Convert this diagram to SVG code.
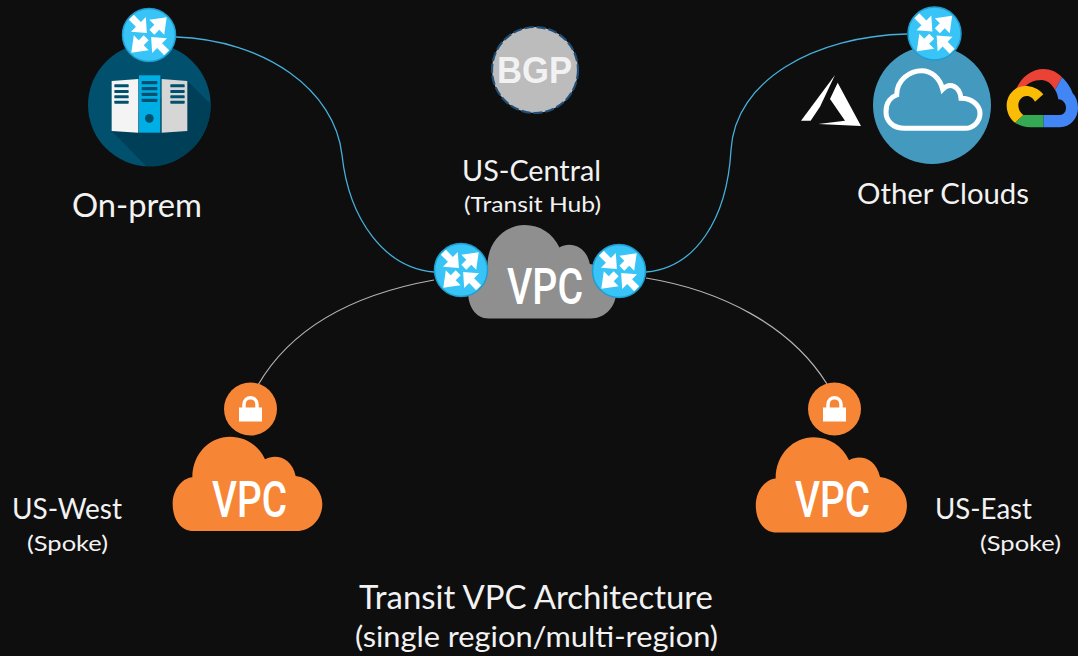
<svg xmlns="http://www.w3.org/2000/svg" width="1078" height="656" viewBox="0 0 1078 656">
<style>
text{font-family:"Lato","Carlito","Open Sans",sans-serif;fill:#f2f2f2;text-anchor:start}
.l{font-size:28px}.s{font-size:21px}
.vpc{font-family:"Roboto",sans-serif;font-weight:500;fill:#fff}
.blue{fill:none;stroke:#45b0dc;stroke-width:1.3}
.grey{fill:none;stroke:#b4b4b4;stroke-width:1.2}
.orange{fill:#f68536}
</style>
<defs>
<g id="router">
<circle r="26.5" fill="#38c4f6" stroke="#1f9dcf" stroke-width="1.5"/>
<g fill="#fff">
<polygon transform="rotate(-45)" points="4,-3.5 11,-3.5 11,-10.500 25,0 11,10.500 11,3.500 4,3.500"/>
<polygon transform="rotate(135)" points="4,-3.5 11,-3.5 11,-10.500 25,0 11,10.500 11,3.500 4,3.500"/>
<polygon transform="rotate(225)" points="3,0 15,-10.500 15,-3.500 25,-3.500 25,3.500 15,3.500 15,10.500"/>
<polygon transform="rotate(45)" points="3,0 15,-10.500 15,-3.500 25,-3.500 25,3.500 15,3.500 15,10.500"/>
</g>
</g>
<path id="cloud" d="M100,483C60,483 38,445 38,402C38,360 65,325 97,322C97,250 150,200 210,200C255,200 295,225 315,268C345,250 395,260 407,318C450,322 487,360 487,402C487,445 455,483 410,483Z"/>
<g id="lock">
<circle r="26.5" class="orange"/>
<rect x="-11.5" y="-1.5" width="23" height="14" fill="#fff"/>
<path d="M-6.5,-1V-4.500C-6.500,-13.500 6.500,-13.500 6.500,-4.500V-1" fill="none" stroke="#fff" stroke-width="3.500"/>
</g>
<clipPath id="srv"><circle cx="268" cy="315" r="184"/></clipPath>
<filter id="soft" x="-10%" y="-10%" width="120%" height="120%"><feGaussianBlur stdDeviation="2"/></filter>
</defs>
<rect width="1078" height="656" fill="#0e0e0e"/>
<g id="connectors">
<path class="blue" d="M176,37C265,40 335,90 342,155C349,220 385,268 434,272"/>
<path class="blue" d="M907,34C815,36 735,80 731,150C727,220 695,268 646,272"/>
<path class="grey" d="M434,280C350,295 290,330 258,385"/>
<path class="grey" d="M646,278C720,290 790,325 827,384"/>
</g>
<g id="on-prem">
<g transform="translate(60,0) scale(.33333)">
<circle cx="268" cy="315" r="184" fill="#00506e"/>
<polygon clip-path="url(#srv)" points="382,243 470,330 470,510 270,510 155,393" fill="#003f58"/>
<polygon points="155,243 235,237 235,398 155,393" fill="#f4f4f4"/>
<rect x="237" y="226" width="64" height="172" fill="#00aee6"/>
<polygon points="305,237 382,243 382,393 305,398" fill="#d6d6d6"/>
<g fill="#00506e">
<rect x="163" y="253" width="43" height="9" rx="2"/><rect x="163" y="270" width="43" height="9" rx="2"/><rect x="163" y="286" width="43" height="9" rx="2"/><rect x="163" y="302" width="43" height="9" rx="2"/>
<rect x="331" y="253" width="43" height="9" rx="2"/><rect x="331" y="270" width="43" height="9" rx="2"/><rect x="331" y="286" width="43" height="9" rx="2"/><rect x="331" y="302" width="43" height="9" rx="2"/>
<rect x="245" y="243" width="47" height="10" rx="2"/><rect x="245" y="261" width="47" height="10" rx="2"/><rect x="245" y="278" width="47" height="10" rx="2"/><rect x="245" y="296" width="47" height="10" rx="2"/>
<circle cx="268" cy="355" r="13"/>
</g>
</g>
<use href="#router" x="149" y="35"/>
<text x="72" y="217" font-size="33" textLength="130" lengthAdjust="spacingAndGlyphs">On-prem</text>
</g>
<g id="bgp">
<circle cx="535" cy="70" r="43" fill="#bcbcbc" stroke="#1f4e79" stroke-width="2.200" stroke-dasharray="9 3"/>
<text x="497" y="83" style="font-family:'Liberation Sans',sans-serif;font-weight:700;font-size:36px" textLength="75" lengthAdjust="spacingAndGlyphs">BGP</text>
</g>
<g id="other-clouds">
<g transform="translate(790,0) scale(.33333)">
<circle cx="426" cy="315" r="177" fill="#4499bf"/>
<path d="M345,385C305,385 288,360 288,335C288,305 305,290 320,285C320,240 360,212 395,212C425,212 450,235 458,268C480,245 510,260 513,295C545,295 570,315 570,340C570,365 550,385 525,385Z" fill="none" stroke="#fff" stroke-width="15"/>
<g filter="url(#soft)" fill="#fff">
<polygon points="135,225 33,362 62,362 90,320"/>
<polygon points="143,248 120,297 165,362 85,372 213,378"/>
</g>
<path fill="#ea4335" d="M678,268C695,228 728,207 760,207C782,207 800,215 816,232L795,270C785,250 770,240 755,240C730,240 712,250 705,262Z"/>
<path fill="#4285f4" d="M816,232C835,250 845,270 848,280C858,290 864,305 864,325C864,355 840,382 810,382H760V345H810C835,345 835,300 805,298C803,285 800,277 795,270Z"/>
<path fill="#34a853" d="M675,368C690,378 705,382 720,382H760V345H700Z"/>
<path fill="#fbbc05" d="M760,283C745,265 725,258 705,258C675,258 650,285 650,316C650,338 660,358 675,368L700,345C690,338 685,328 685,316C685,302 695,288 710,288C722,288 730,296 735,305Z"/>
</g>
<use href="#router" x="934.500" y="33.500"/>
<text x="857" y="204" class="l" textLength="172" lengthAdjust="spacingAndGlyphs">Other Clouds</text>
</g>
<g id="us-central">
<use href="#cloud" transform="translate(455.500,159) scale(.33)" fill="#8f8f8f"/>
<text x="507" y="304" class="vpc" font-size="50" textLength="76" lengthAdjust="spacingAndGlyphs">VPC</text>
<use href="#router" x="461" y="270"/>
<use href="#router" x="619" y="271"/>
<text x="462" y="181" class="l" textLength="139" lengthAdjust="spacingAndGlyphs">US-Central</text>
<text x="464" y="212" class="s" textLength="137" lengthAdjust="spacingAndGlyphs">(Transit Hub)</text>
</g>
<g id="us-west">
<use href="#lock" x="250.500" y="409"/>
<use href="#cloud" class="orange" transform="translate(160,370) scale(.33333)"/>
<text x="212" y="516.500" class="vpc" font-size="50" textLength="75" lengthAdjust="spacingAndGlyphs">VPC</text>
<text x="12" y="519" class="l" textLength="110" lengthAdjust="spacingAndGlyphs">US-West</text>
<text x="27" y="551" class="s" textLength="81" lengthAdjust="spacingAndGlyphs">(Spoke)</text>
</g>
<g id="us-east">
<use href="#lock" x="834.500" y="409"/>
<use href="#cloud" class="orange" transform="translate(743,370) scale(.33666)"/>
<text x="795" y="516.500" class="vpc" font-size="50" textLength="75" lengthAdjust="spacingAndGlyphs">VPC</text>
<text x="935" y="519" class="l" textLength="97" lengthAdjust="spacingAndGlyphs">US-East</text>
<text x="980" y="551" class="s" textLength="81" lengthAdjust="spacingAndGlyphs">(Spoke)</text>
</g>
<g id="title">
<text x="359" y="609" font-size="32" textLength="354" lengthAdjust="spacingAndGlyphs">Transit VPC Architecture</text>
<text x="355" y="647" class="l" textLength="363" lengthAdjust="spacingAndGlyphs">(single region/multi-region)</text>
</g>
</svg>
